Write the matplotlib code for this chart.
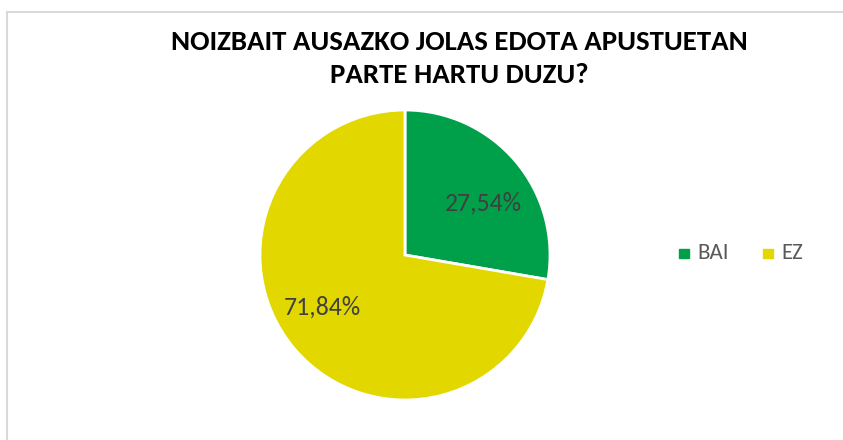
import matplotlib
matplotlib.use("Agg")
import matplotlib.pyplot as plt
from matplotlib.patches import Rectangle

# survey answers, percent of respondents
labels = ["BAI", "EZ"]
values = [27.54, 71.84]
colors = ["#00A04A", "#E2D800"]

W, H = 843, 440
fig = plt.figure(figsize=(W / 100, H / 100), dpi=100)
fig.patch.set_facecolor("white")
font = ["Carlito", "DejaVu Sans"]

# light frame of the chart area (only top and left edges are inside the crop)
fig.add_artist(plt.Line2D([7 / W, 1], [1 - 12 / H, 1 - 12 / H], color="#D9D9D9", lw=1.5))
fig.add_artist(plt.Line2D([7 / W, 7 / W], [0, 1 - 12 / H], color="#D9D9D9", lw=1.5))

title_kw = dict(ha="center", va="baseline", fontsize=20.8, fontweight="bold",
                family=font, color="#000000")
fig.text(459 / W, 1 - 50 / H, "NOIZBAIT AUSAZKO JOLAS EDOTA APUSTUETAN", **title_kw)
fig.text(459 / W, 1 - 83 / H, "PARTE HARTU DUZU?", **title_kw)

cx, cy, r = 405, 255, 145
ax = fig.add_axes([(cx - r) / W, (H - cy - r) / H, 2 * r / W, 2 * r / H])
wedges, _ = ax.pie(values, colors=colors, startangle=90, counterclock=False,
                   wedgeprops=dict(edgecolor="white", linewidth=2))
ax.set_xlim(-1, 1)
ax.set_ylim(-1, 1)
ax.set_aspect("equal")
ax.axis("off")

# percent labels placed inside each wedge
pos = [(0.538, 0.303), (-0.569, -0.414)]
for v, (px, py) in zip(values, pos):
    ax.text(px, py, f"{v:.2f}%".replace(".", ","), ha="center", va="baseline",
            fontsize=18.5, color="#404040", family=font)

# legend on the right
lx = [684, 768]
for x, lab, col in zip(lx, labels, colors):
    fig.add_artist(Rectangle(((x - 5) / W, 1 - 258 / H), 10 / W, 9 / H, color=col))
    fig.text((x + 13) / W, 1 - 259 / H, lab, ha="left", va="baseline",
             fontsize=16.5, color="#595959", family=font)

fig.savefig("out.png", dpi=100)
